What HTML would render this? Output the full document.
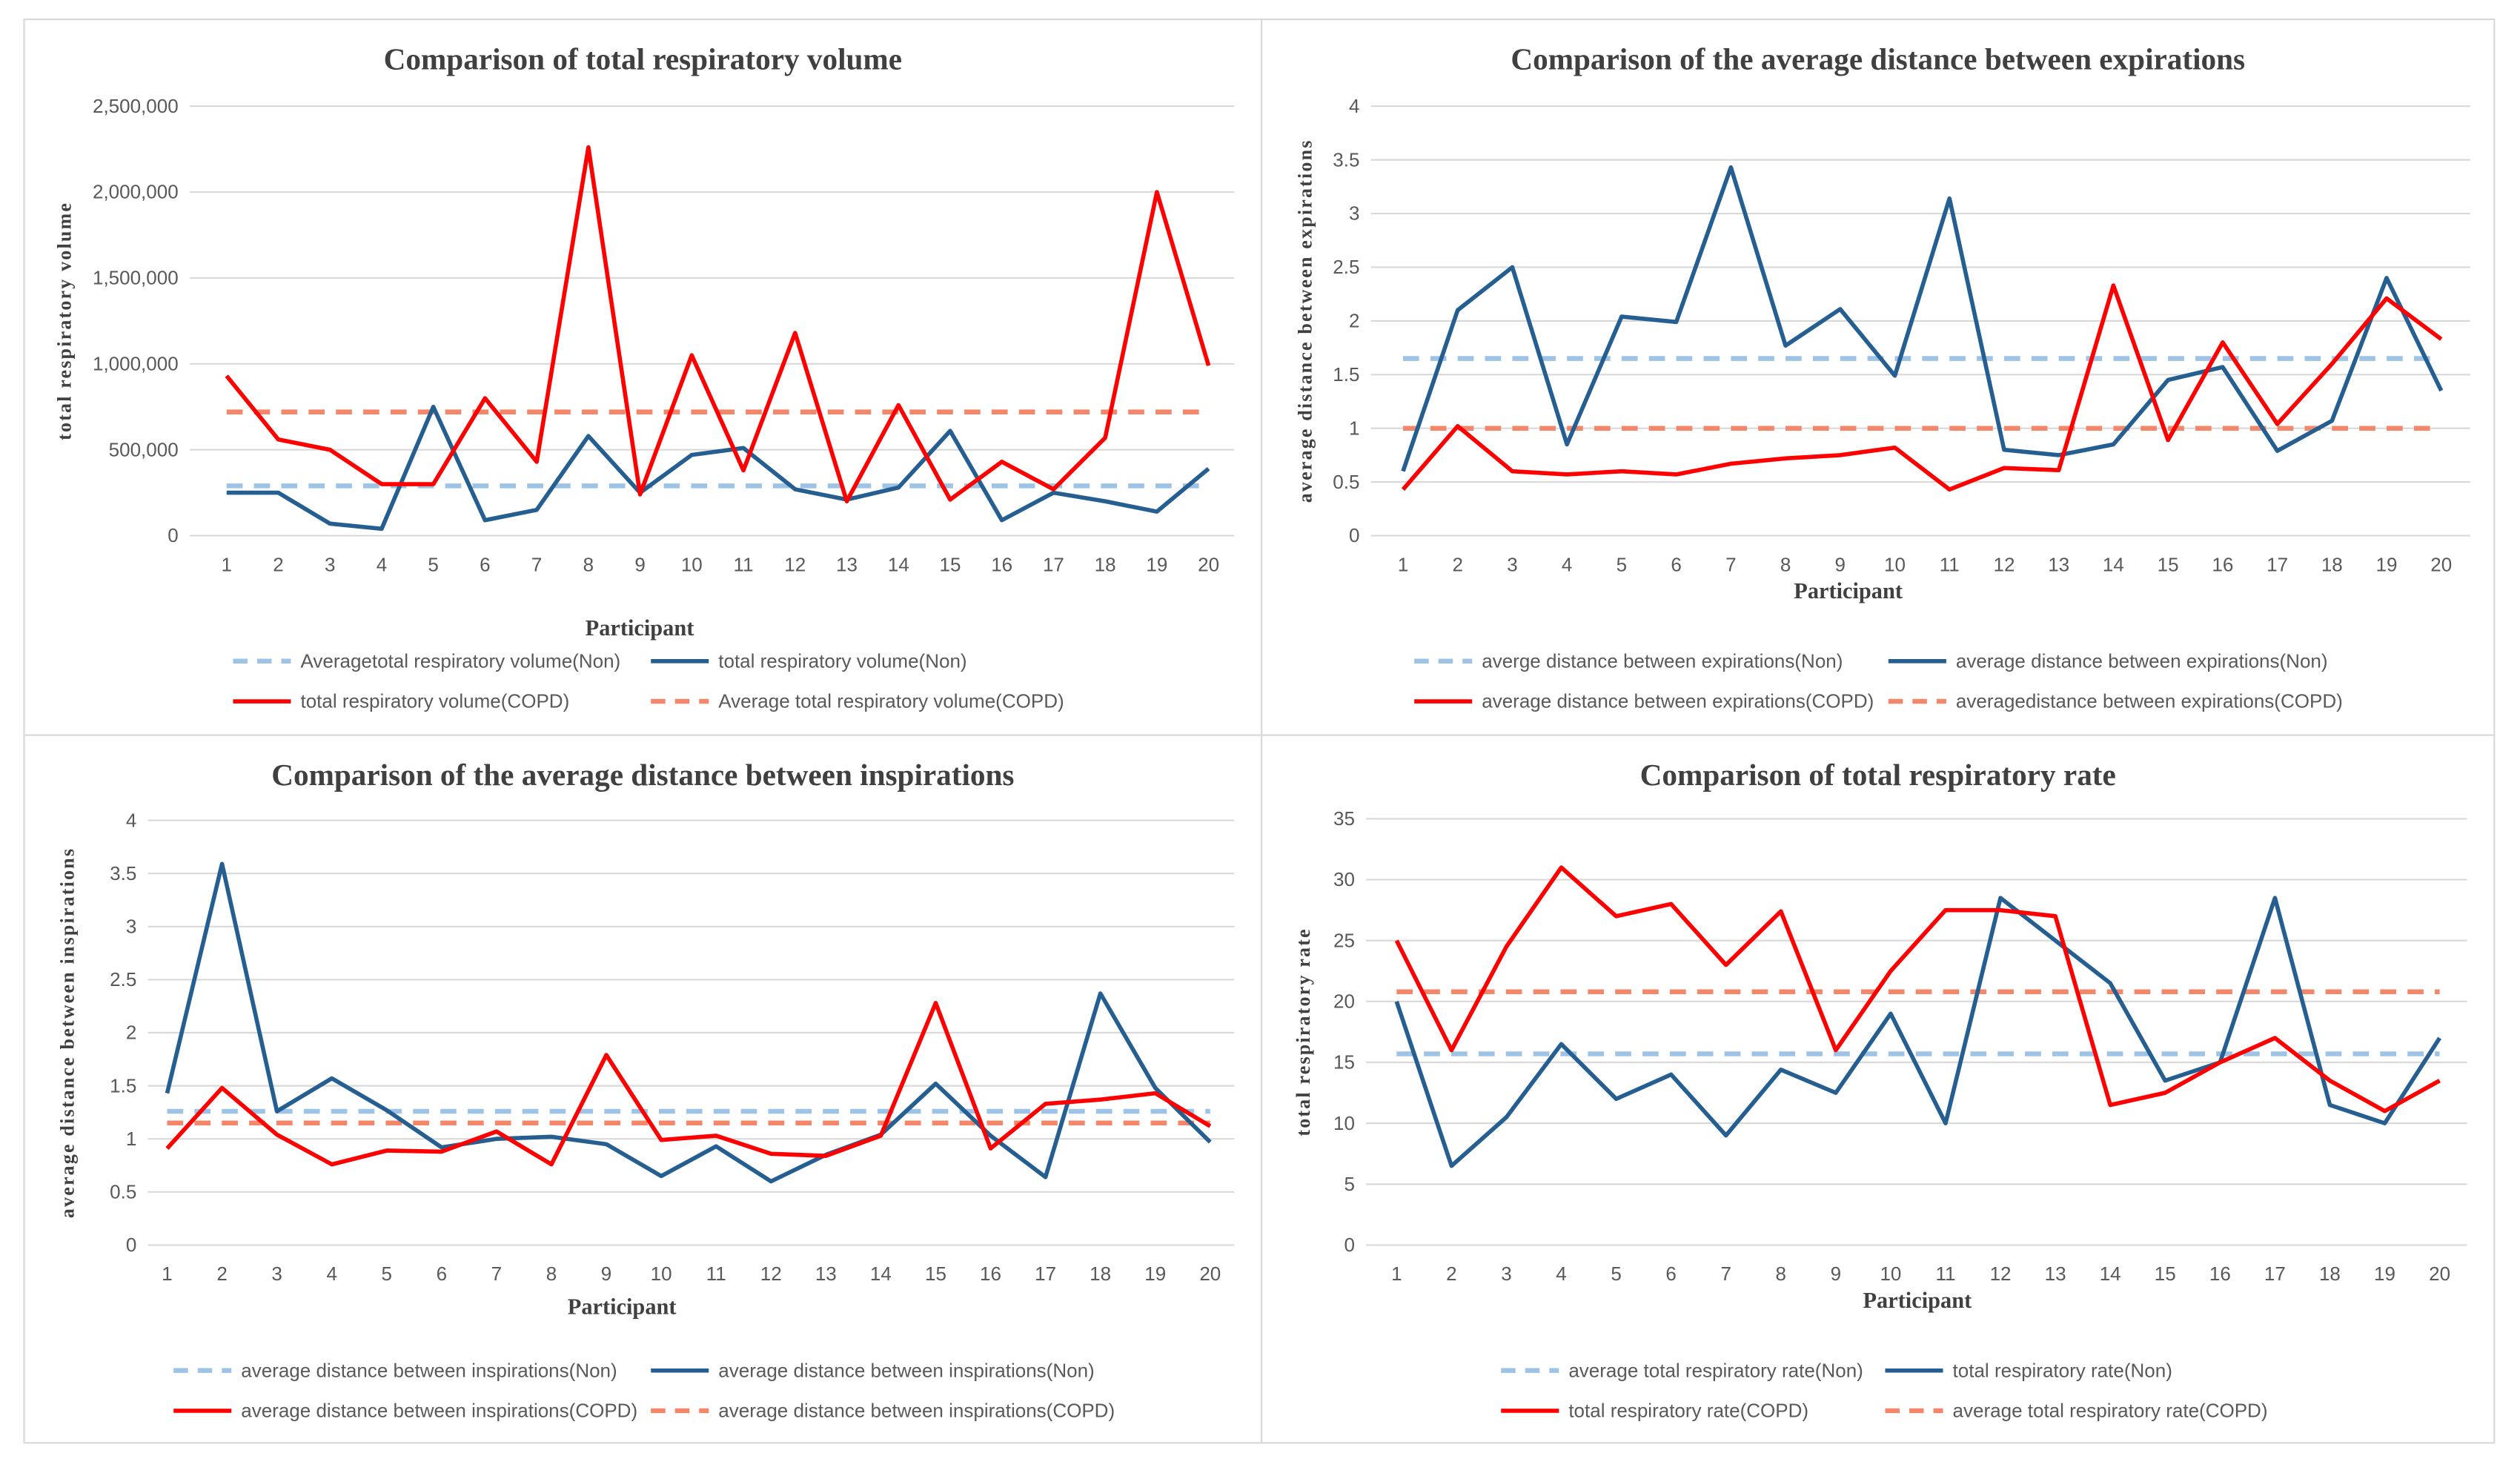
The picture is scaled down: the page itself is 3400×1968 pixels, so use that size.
<!DOCTYPE html>
<html><head><meta charset="utf-8"><style>
html,body{margin:0;padding:0;background:#fff}
svg{display:block}
</style></head><body>
<svg id="c" width="3400" height="1968" viewBox="0 0 1568 907" preserveAspectRatio="none" xmlns="http://www.w3.org/2000/svg">
<rect x="0" y="0" width="1568" height="907" fill="#fff"/>
</svg>
<script>
const participants = ["1","2","3","4","5","6","7","8","9","10","11","12","13","14","15","16","17","18","19","20"];
const volNon = [250000,250000,70000,40000,750000,90000,150000,580000,250000,470000,510000,270000,210000,280000,610000,90000,250000,200000,140000,390000];
const volCopd = [930000,560000,500000,300000,300000,800000,430000,2260000,240000,1050000,380000,1180000,200000,760000,210000,430000,270000,570000,2000000,990000];
const volAvg = [290000,720000];
const volTicks = ["0","500,000","1,000,000","1,500,000","2,000,000","2,500,000"];
const expNon = [0.6,2.1,2.5,0.85,2.04,1.99,3.43,1.77,2.11,1.49,3.14,0.8,0.75,0.85,1.45,1.57,0.79,1.07,2.4,1.35];
const expCopd = [0.43,1.02,0.6,0.57,0.6,0.57,0.67,0.72,0.75,0.82,0.43,0.63,0.61,2.33,0.89,1.8,1.04,1.6,2.21,1.83];
const expAvg = [1.65,1.0];
const insNon = [1.43,3.59,1.26,1.57,1.27,0.92,1.0,1.02,0.95,0.65,0.93,0.6,0.85,1.04,1.52,1.03,0.64,2.37,1.48,0.97];
const insCopd = [0.91,1.48,1.04,0.76,0.89,0.88,1.07,0.76,1.79,0.99,1.03,0.86,0.84,1.03,2.28,0.91,1.33,1.37,1.43,1.12];
const insAvg = [1.26,1.15];
const distTicks = ["0","0.5","1","1.5","2","2.5","3","3.5","4"];
const rateNon = [20,6.5,10.5,16.5,12,14,9,14.4,12.5,19,10,28.5,25,21.5,13.5,15,28.5,11.5,10,17];
const rateCopd = [25,16,24.5,31,27,28,23,27.4,16,22.5,27.5,27.5,27,11.5,12.5,15,17,13.5,11,13.5];
const rateAvg = [15.7,20.8];
const rateTicks = ["0","5","10","15","20","25","30","35"];

const NS="http://www.w3.org/2000/svg";
const svg=document.getElementById('c');
function mk(tag,attrs,parent,text){const e=document.createElementNS(NS,tag);for(const k in attrs)e.setAttribute(k,attrs[k]);if(text!==undefined)e.textContent=text;(parent||svg).appendChild(e);return e;}

const panels=[
 {id:'volume',box:[15,12,770,445],title:'Comparison of total respiratory volume',ytitle:'total  respiratory  volume',
  gx0:118,gx1:768,yTop:66,yBot:333,max:2500000,ticks:volTicks,tickStep:500000,cx0:141,cx1:752,
  non:volNon,copd:volCopd,avg:volAvg,xlab:395,xlabX:398,ytx:44,leg:[411,436],legX:[145,405,145,405],
  legT:['Averagetotal respiratory volume(Non)','total respiratory volume(Non)','total respiratory volume(COPD)','Average total respiratory volume(COPD)']},
 {id:'expirations',box:[785,12,767,445],title:'Comparison of the  average distance between expirations',ytitle:'average  distance  between  expirations',
  gx0:853,gx1:1537,yTop:66,yBot:333,max:4,ticks:distTicks,tickStep:0.5,cx0:873,cx1:1519,
  non:expNon,copd:expCopd,avg:expAvg,xlab:372,xlabX:1150,ytx:816,leg:[411,436],legX:[880,1175,880,1175],
  legT:['averge distance between expirations(Non)','average distance between expirations(Non)','average distance between expirations(COPD)','averagedistance between expirations(COPD)']},
 {id:'inspirations',box:[15,457,770,440],title:'Comparison of the  average distance between inspirations',ytitle:'average  distance  between  inspirations',
  gx0:92,gx1:768,yTop:510,yBot:774,max:4,ticks:distTicks,tickStep:0.5,cx0:104,cx1:753,
  non:insNon,copd:insCopd,avg:insAvg,xlab:817,xlabX:387,ytx:46,leg:[852,877],legX:[108,405,108,405],
  legT:['average distance between inspirations(Non)','average distance between inspirations(Non)','average distance between inspirations(COPD)','average distance between inspirations(COPD)']},
 {id:'rate',box:[785,457,767,440],title:'Comparison of total respiratory rate',ytitle:'total  respiratory  rate',
  gx0:850,gx1:1535,yTop:509,yBot:774,max:35,ticks:rateTicks,tickStep:5,cx0:869,cx1:1518,
  non:rateNon,copd:rateCopd,avg:rateAvg,xlab:813,xlabX:1193,ytx:815,leg:[852,877],legX:[934,1173,934,1173],
  legT:['average total respiratory rate(Non)','total respiratory rate(Non)','total respiratory rate(COPD)','average total respiratory rate(COPD)']}
];
const sans='"Liberation Sans Narrow","Liberation Sans",sans-serif';
panels.forEach(p=>{
 const g=mk('g',{});
 
 
 const b=p.box;
 mk('rect',{x:b[0],y:b[1],width:b[2],height:b[3],fill:'#fff',stroke:'#d9d9d9','stroke-width':1},g);
 const cxm=b[0]+b[2]/2;
 const t=mk('text',{x:cxm,y:b[1]+31,'text-anchor':'middle','font-family':'"Liberation Serif",serif','font-weight':'bold','font-size':19,fill:'#404040'},g,p.title);
 
 const y=v=>p.yBot-(v/p.max)*(p.yBot-p.yTop);
 const x=i=>p.cx0+i*(p.cx1-p.cx0)/(participants.length-1);
 p.ticks.forEach((lab,i)=>{
  const yy=y(i*p.tickStep);
  const gl=mk('line',{x1:p.gx0,x2:p.gx1,y1:yy,y2:yy,stroke:'#d9d9d9','stroke-width':1},g);
  
  const tl=mk('text',{x:p.gx0-7,y:yy+4,'text-anchor':'end','font-family':sans,'font-size':12,fill:'#595959'},g,lab);
  
 });
 participants.forEach((lab,i)=>{
  const tl=mk('text',{x:x(i),y:p.yBot+22,'text-anchor':'middle','font-family':sans,'font-size':12,fill:'#595959'},g,lab);
  
 });
 const xt=mk('text',{x:p.xlabX,y:p.xlab,'text-anchor':'middle','font-family':'"Liberation Serif",serif','font-weight':'bold','font-size':14,fill:'#404040'},g,'Participant');
 
 const ym=(p.yTop+p.yBot)/2;
 const yt=mk('text',{x:p.ytx,y:ym,'text-anchor':'middle','font-family':'"Liberation Serif",serif','font-weight':'bold','font-size':12,'letter-spacing':1,fill:'#404040',transform:`rotate(-90 ${p.ytx} ${ym})`},g,p.ytitle);
 
 const series=[
  {pts:participants.map(()=>p.avg[0]),c:'#9dc3e6',d:'10,7',w:3,n:'avg-non-line'},
  {pts:p.non,c:'#255e91',d:'',w:2.6,n:'non-line'},
  {pts:p.copd,c:'#ff0000',d:'',w:2.6,n:'copd-line'},
  {pts:participants.map(()=>p.avg[1]),c:'#f4866a',d:'10,7',w:3,n:'avg-copd-line'}
 ];
 const order=[0,3,1,2];
 order.forEach(k=>{const s=series[k];
  const pl=mk('polyline',{points:s.pts.map((v,i)=>x(i)+','+y(v)).join(' '),fill:'none',stroke:s.c,'stroke-width':s.w,'stroke-dasharray':s.d,'stroke-linejoin':'round'},g);
  
 });
 series.forEach((s,k)=>{
  const lx=p.legX[k], ly=p.leg[k<2?0:1];
  const lg=mk('g',{},g);
  
  mk('line',{x1:lx,x2:lx+36,y1:ly,y2:ly,stroke:s.c,'stroke-width':s.w,'stroke-dasharray':s.d?'9,6':''},lg);
  mk('text',{x:lx+42,y:ly+4,'font-family':sans,'font-size':12,fill:'#595959'},lg,p.legT[k]);
 });
});
</script>
</body></html>
